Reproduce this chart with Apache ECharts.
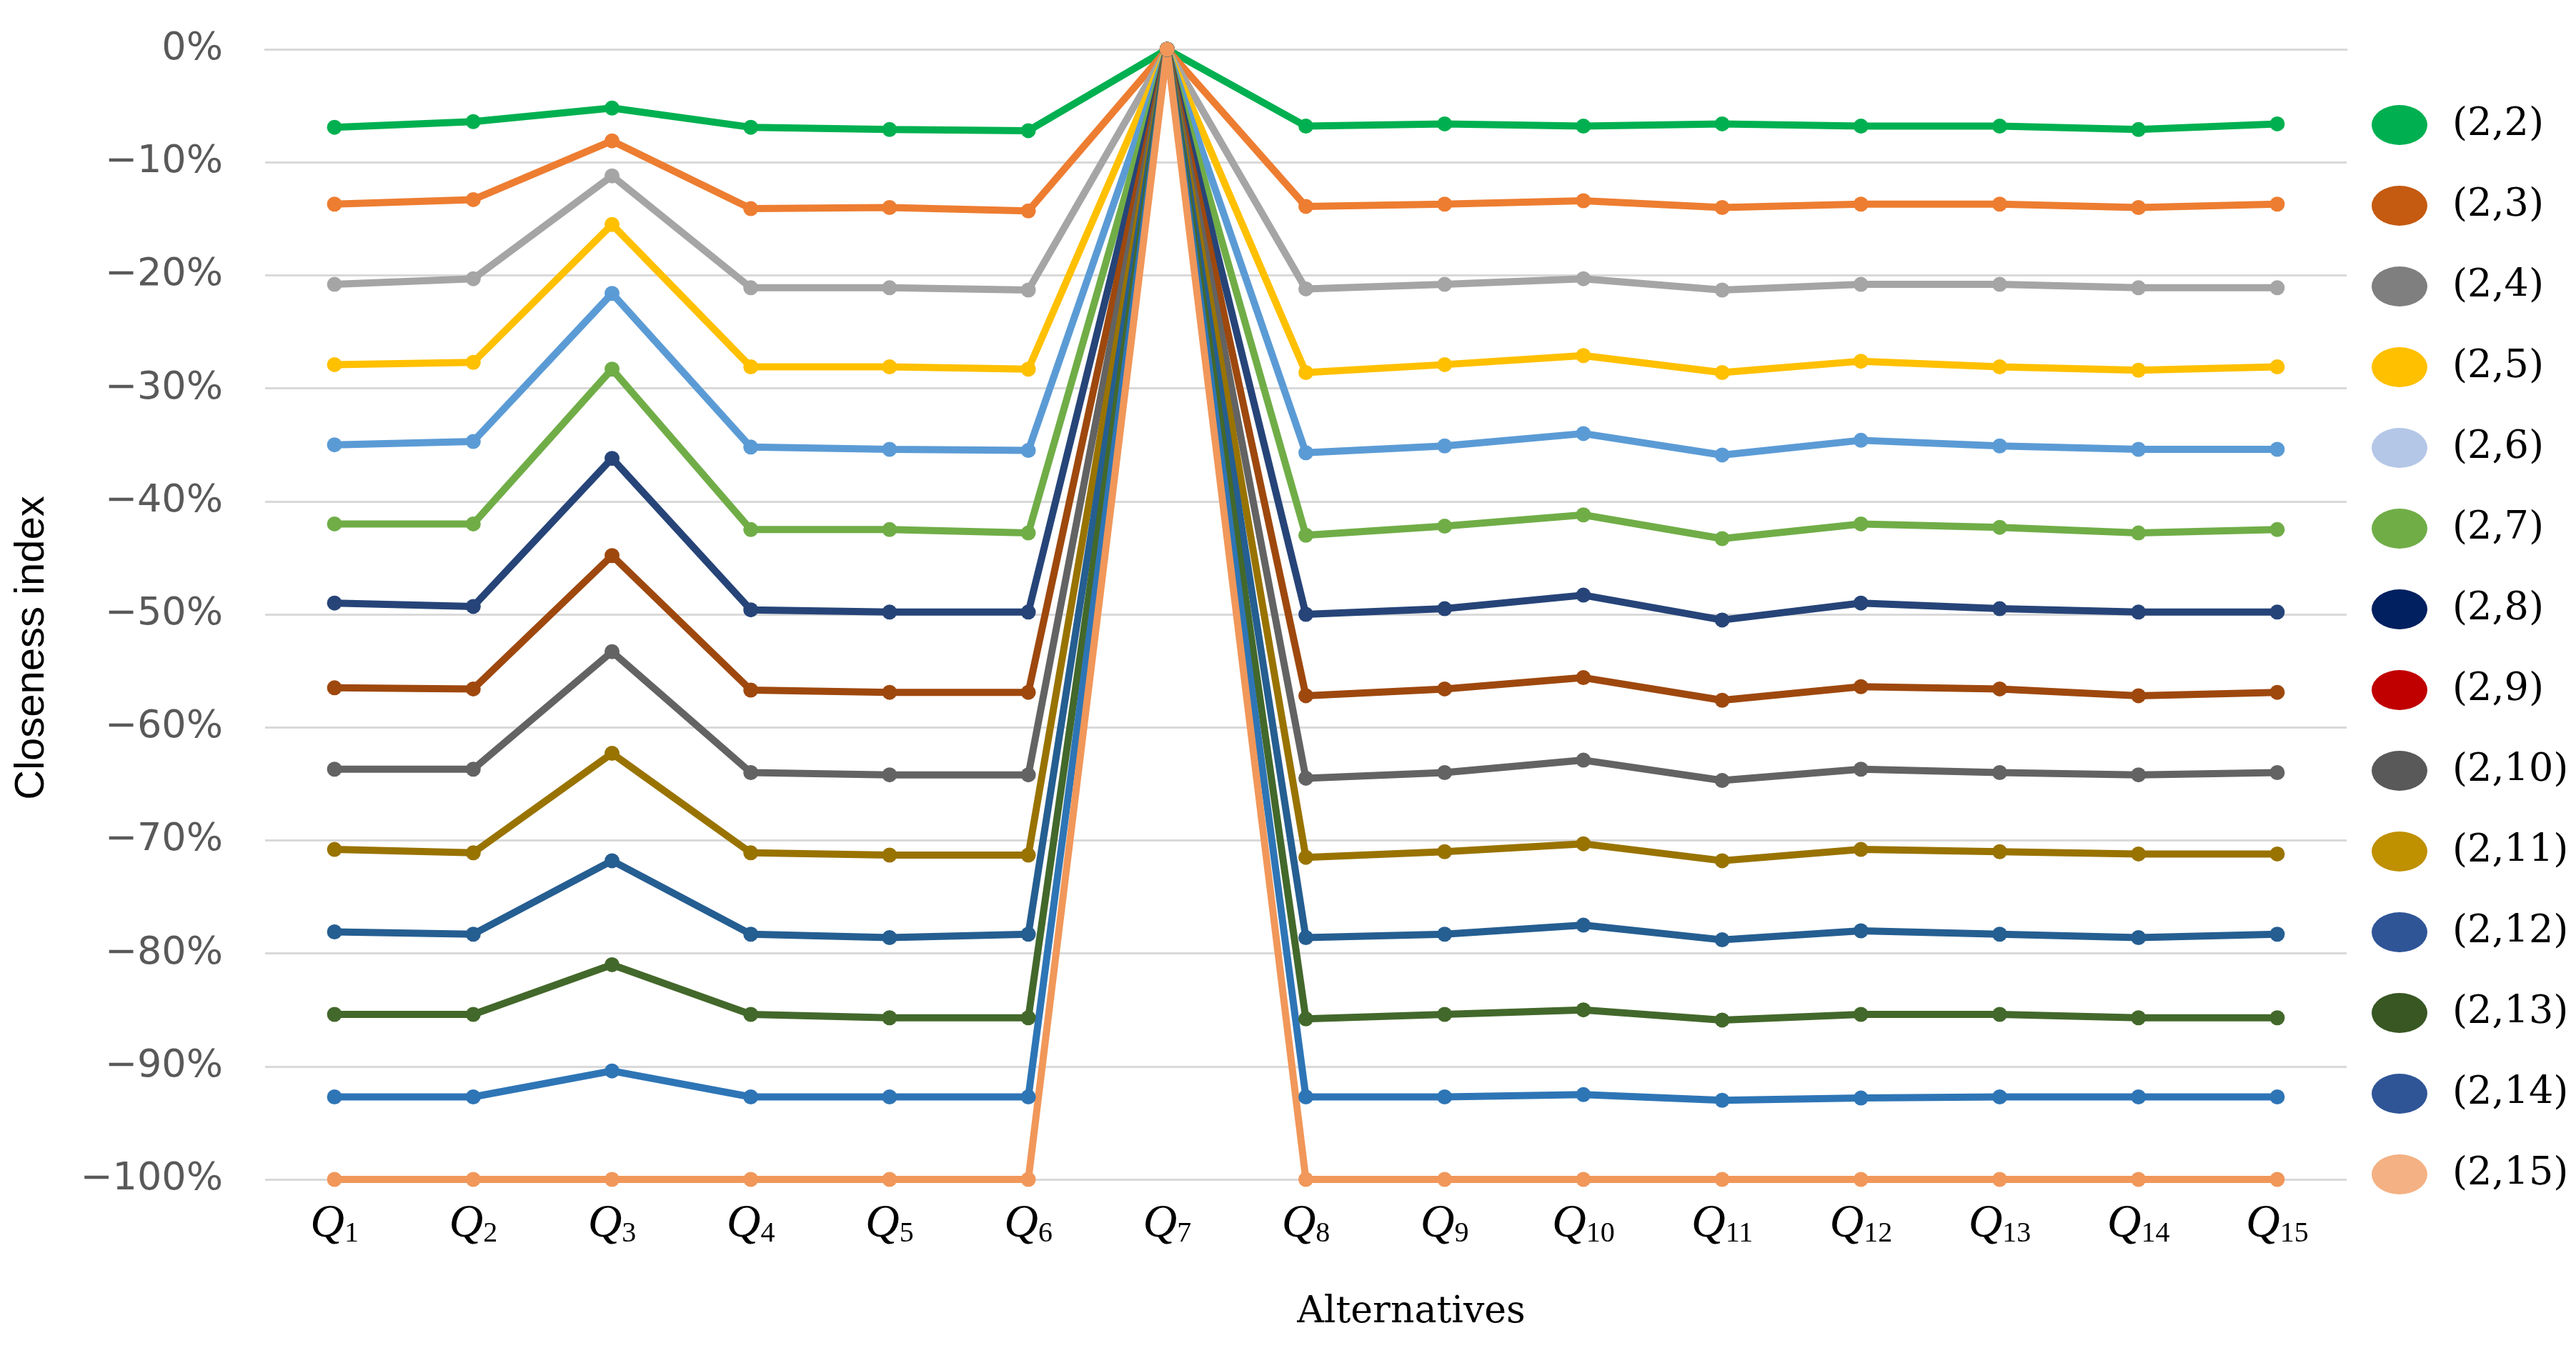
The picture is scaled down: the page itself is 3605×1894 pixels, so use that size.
<!DOCTYPE html>
<html>
<head>
<meta charset="utf-8">
<title>Closeness index</title>
<script src="https://cdn.jsdelivr.net/npm/echarts@6/dist/echarts.min.js"></script>
<style>
  html, body { margin: 0; padding: 0; background: #fff; }
  #chart { width: 3605px; height: 1894px; }
</style>
</head>
<body>
<div id="chart"></div>
<script>
var categories = ['Q1', 'Q2', 'Q3', 'Q4', 'Q5', 'Q6', 'Q7', 'Q8', 'Q9', 'Q10', 'Q11', 'Q12', 'Q13', 'Q14', 'Q15']
var yTicks = [0, -10, -20, -30, -40, -50, -60, -70, -80, -90, -100]

var names = ['(2,2)', '(2,3)', '(2,4)', '(2,5)', '(2,6)', '(2,7)', '(2,8)', '(2,9)', '(2,10)', '(2,11)', '(2,12)', '(2,13)', '(2,14)', '(2,15)']

var s2_2 = [-6.9, -6.4, -5.2, -6.9, -7.1, -7.2, 0, -6.8, -6.6, -6.8, -6.6, -6.8, -6.8, -7.1, -6.6]
var s2_3 = [-13.7, -13.3, -8.1, -14.1, -14.0, -14.3, 0, -13.9, -13.7, -13.4, -14.0, -13.7, -13.7, -14.0, -13.7]
var s2_4 = [-20.8, -20.3, -11.2, -21.1, -21.1, -21.3, 0, -21.2, -20.8, -20.3, -21.3, -20.8, -20.8, -21.1, -21.1]
var s2_5 = [-27.9, -27.7, -15.5, -28.1, -28.1, -28.3, 0, -28.6, -27.9, -27.1, -28.6, -27.6, -28.1, -28.4, -28.1]
var s2_6 = [-35.0, -34.7, -21.6, -35.2, -35.4, -35.5, 0, -35.7, -35.1, -34.0, -35.9, -34.6, -35.1, -35.4, -35.4]
var s2_7 = [-42.0, -42.0, -28.3, -42.5, -42.5, -42.8, 0, -43.0, -42.2, -41.2, -43.3, -42.0, -42.3, -42.8, -42.5]
var s2_8 = [-49.0, -49.3, -36.2, -49.6, -49.8, -49.8, 0, -50.0, -49.5, -48.3, -50.5, -49.0, -49.5, -49.8, -49.8]
var s2_9 = [-56.5, -56.6, -44.8, -56.7, -56.9, -56.9, 0, -57.2, -56.6, -55.6, -57.6, -56.4, -56.6, -57.2, -56.9]
var s2_10 = [-63.7, -63.7, -53.3, -64.0, -64.2, -64.2, 0, -64.5, -64.0, -62.9, -64.7, -63.7, -64.0, -64.2, -64.0]
var s2_11 = [-70.8, -71.1, -62.3, -71.1, -71.3, -71.3, 0, -71.5, -71.0, -70.3, -71.8, -70.8, -71.0, -71.2, -71.2]
var s2_12 = [-78.1, -78.3, -71.8, -78.3, -78.6, -78.3, 0, -78.6, -78.3, -77.5, -78.8, -78.0, -78.3, -78.6, -78.3]
var s2_13 = [-85.4, -85.4, -81.0, -85.4, -85.7, -85.7, 0, -85.8, -85.4, -85.0, -85.9, -85.4, -85.4, -85.7, -85.7]
var s2_14 = [-92.7, -92.7, -90.4, -92.7, -92.7, -92.7, 0, -92.7, -92.7, -92.5, -93.0, -92.8, -92.7, -92.7, -92.7]
var s2_15 = [-100, -100, -100, -100, -100, -100, 0, -100, -100, -100, -100, -100, -100, -100, -100]

var values = [s2_2, s2_3, s2_4, s2_5, s2_6, s2_7, s2_8, s2_9, s2_10, s2_11, s2_12, s2_13, s2_14, s2_15]

// line colours, and the (slightly different) swatch colours used in the legend
var lineColors = ['#00B050', '#ED7D31', '#A5A5A5', '#FFC000', '#5B9BD5', '#70AD47', '#264478', '#9E480E', '#636363', '#997300', '#255E91', '#43682B', '#2E75B6', '#F1975A']
var legendColors = ['#00B050', '#C55A11', '#7F7F7F', '#FFC000', '#B4C7E7', '#70AD47', '#002060', '#C00000', '#595959', '#BF9000', '#2F5597', '#385723', '#2F5597', '#F4B183']

var chart = echarts.init(document.getElementById('chart'))

var series = []
for (var i = 0; i < names.length; i++) {
  series.push({
    name: names[i],
    type: 'line',
    data: values[i],
    symbol: 'circle',
    symbolSize: 21,
    showAllSymbol: true,
    lineStyle: { width: 10, color: lineColors[i] },
    itemStyle: { color: lineColors[i] }
  })
}

chart.setOption({
  animation: false,
  backgroundColor: '#ffffff',
  grid: { left: 371, right: 321, top: 69, bottom: 243 },
  legend: {
    orient: 'vertical',
    left: 3319,
    top: 147,
    padding: 0,
    itemWidth: 78,
    itemHeight: 56,
    itemGap: 57,
    symbolKeepAspect: false,
    icon: 'path://M0,50 A50,50 0 1,1 100,50 A50,50 0 1,1 0,50 Z',
    itemStyle: { borderWidth: 0 },
    data: names.map(function(n, i) {
      return { name: n, itemStyle: { color: legendColors[i], borderWidth: 0 } }
    }),
    textStyle: {
      fontFamily: 'DejaVu Serif',
      fontSize: 54,
      color: '#000000',
      padding: [0, 0, 0, 30]
    }
  },
  xAxis: {
    type: 'category',
    data: categories,
    boundaryGap: true,
    axisLine: { show: true, lineStyle: { color: '#D9D9D9', width: 3 } },
    axisTick: { show: false },
    axisLabel: {
      margin: 22,
      interval: 0,
      formatter: function(v) {
        return '{q|Q}{s|' + v.slice(1) + '}'
      },
      rich: {
        q: { fontFamily: 'Liberation Serif', fontStyle: 'italic', fontSize: 66, lineHeight: 74, color: '#000', verticalAlign: 'bottom' },
        s: { fontFamily: 'Liberation Serif', fontSize: 40, lineHeight: 40, color: '#000', verticalAlign: 'bottom' }
      }
    },
    splitLine: { show: false }
  },
  yAxis: {
    type: 'value',
    min: yTicks[yTicks.length - 1],
    max: yTicks[0],
    interval: 10,
    axisLine: { show: false },
    axisTick: { show: false },
    axisLabel: {
      margin: 59,
      fontFamily: 'DejaVu Sans',
      fontSize: 54,
      color: '#595959',
      formatter: function(v) {
        return (v < 0 ? '\u2212' + Math.abs(v) : v) + '%'
      }
    },
    splitLine: { show: true, lineStyle: { color: '#D9D9D9', width: 3 } }
  },
  graphic: [
    {
      type: 'text',
      x: 45,
      y: 907,
      rotation: Math.PI / 2,
      style: {
        text: 'Closeness index',
        fontFamily: 'Liberation Sans',
        fontSize: 58,
        fill: '#000',
        align: 'center',
        verticalAlign: 'middle'
      }
    },
    {
      type: 'text',
      x: 1975,
      y: 1837,
      style: {
        text: 'Alternatives',
        fontFamily: 'DejaVu Serif',
        fontSize: 52,
        fill: '#000',
        align: 'center',
        verticalAlign: 'middle'
      }
    }
  ],
  series: series
})
</script>
</body>
</html>
